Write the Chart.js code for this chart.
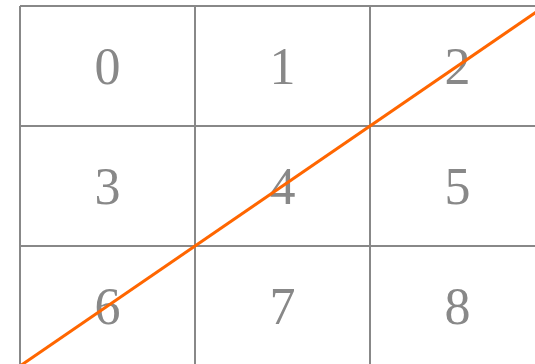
<!DOCTYPE html>
<html>
<head>
<meta charset="utf-8">
<script src="https://cdn.jsdelivr.net/npm/chart.js@4/dist/chart.umd.min.js"></script>
<style>
  html, body { margin: 0; padding: 0; background: #fff; }
  #wrap { width: 535px; height: 364px; position: relative; }
</style>
</head>
<body>
<div id="wrap"><canvas id="grid-chart"></canvas></div>
<script>
// cell labels, read row by row
const cellLabels = ['0', '1', '2', '3', '4', '5', '6', '7', '8'];
const gridCols = 3;
const gridRows = 3;

// diagonal line, in cell units (corner to corner)
const lineX = [0, 3];
const lineY = [3, 0];

const GRAY = '#888888';
const ORANGE = '#ff6600';

// draw the numbers in the middle of each cell, under the line
const cellText = {
    id: 'cellText',
    beforeDatasetsDraw(chart) {
        const { ctx, scales: { x, y } } = chart;
        ctx.save();
        ctx.beginPath();
        ctx.rect(chart.chartArea.left, chart.chartArea.top,
                 chart.chartArea.right - chart.chartArea.left,
                 chart.chartArea.bottom - chart.chartArea.top);
        ctx.clip();
        ctx.fillStyle = GRAY;
        ctx.font = '52px "Liberation Serif", "DejaVu Serif", serif';
        ctx.textAlign = 'center';
        ctx.textBaseline = 'alphabetic';
        cellLabels.forEach((label, i) => {
            const col = i % gridCols;
            const row = Math.floor(i / gridCols);
            const px = x.getPixelForValue(col + 0.5);
            const py = y.getPixelForValue(row + 0.5);
            ctx.fillText(label, px, py + 18);
        });
        ctx.restore();
    }
};

const onlyWhole = (scale) => {
    scale.ticks = scale.ticks.filter(t => Number.isInteger(t.value));
};

new Chart(document.getElementById('grid-chart'), {
    type: 'line',
    data: {
        datasets: [{
            data: lineX.map((v, i) => ({ x: v, y: lineY[i] })),
            borderColor: ORANGE,
            borderWidth: 3,
            pointRadius: 0,
            tension: 0
        }]
    },
    options: {
        responsive: true,
        maintainAspectRatio: false,
        animation: false,
        layout: { padding: { left: 20, top: 6, right: 0, bottom: 0 } },
        plugins: {
            legend: { display: false },
            tooltip: { enabled: false }
        },
        scales: {
            x: {
                type: 'linear',
                min: 0,
                max: 515 / 175,
                ticks: { display: false, stepSize: 1, includeBounds: false },
                afterBuildTicks: onlyWhole,
                grid: { color: GRAY, lineWidth: 2, drawTicks: false },
                border: { display: false }
            },
            y: {
                type: 'linear',
                reverse: true,
                min: 0,
                max: 358 / 120,
                ticks: { display: false, stepSize: 1, includeBounds: false },
                afterBuildTicks: onlyWhole,
                grid: { color: GRAY, lineWidth: 2, drawTicks: false },
                border: { display: false }
            }
        }
    },
    plugins: [cellText]
});
</script>
</body>
</html>
